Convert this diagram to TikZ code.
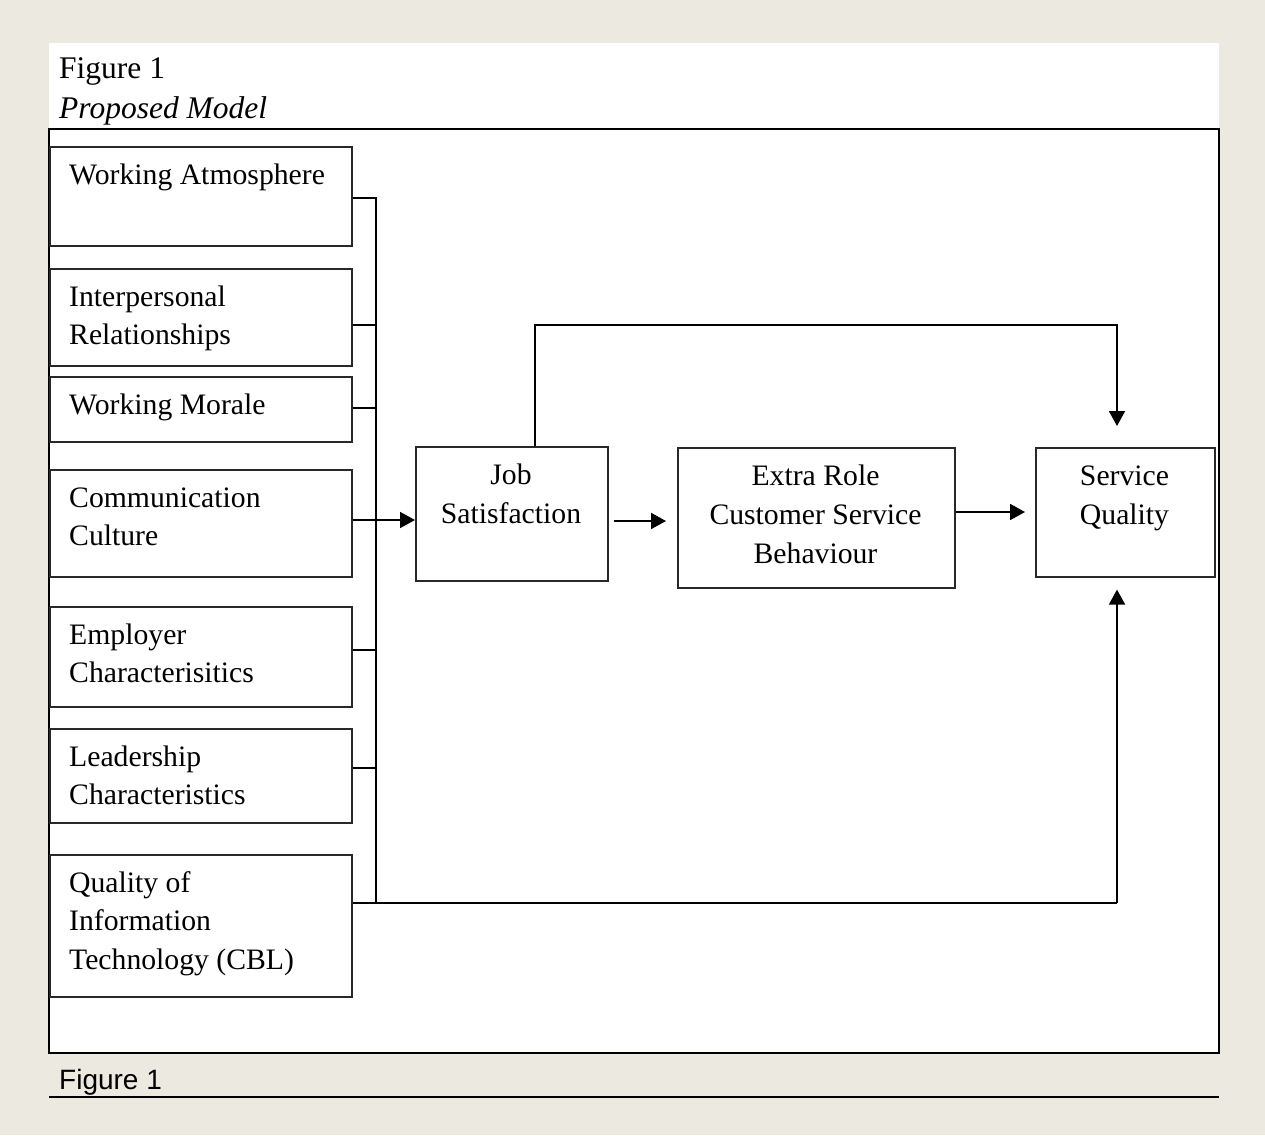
\documentclass[tikz,border=0pt]{standalone}
\usepackage{fontspec}
\setmainfont{Liberation Serif}
\newfontfamily\capfont{Liberation Sans}
\usetikzlibrary{arrows.meta,calc}
\definecolor{pagebg}{RGB}{236,234,224}
\definecolor{boxline}{RGB}{40,40,40}
\tikzset{
  box/.style={draw=boxline, line width=1.6pt, anchor=north west, inner sep=0pt, fill=white},
  lbl/.style={anchor=base west, inner sep=0pt, align=left, font=\fontsize{29.7}{38.5}\selectfont},
  ttl/.style={anchor=base west, inner sep=0pt, font=\fontsize{31.5}{40}\selectfont},
  clbl/.style={anchor=base, inner sep=0pt, align=center, font=\fontsize{29.7}{39}\selectfont},
  conn/.style={line width=1.8pt, draw=black},
  arr/.style={conn, -{Triangle[length=15pt,width=16pt]}},
}
\begin{document}
\begin{tikzpicture}[x=1pt,y=-1pt]
\useasboundingbox (0,0) rectangle (1265,1135);
\fill[pagebg] (0,0) rectangle (1265,1135);
\fill[white] (49,43) rectangle (1219,1053);
% titles
\node[ttl] (fig) at (59,78) {Figure 1};
\node[ttl] (pm) at (59,118) {\itshape Proposed Model};
% frame
\draw[line width=2.2pt] (49,129) rectangle (1219,1053);
% left boxes (base anchor = last line)
\node[box, minimum width=302pt, minimum height=99pt] (wa) at (49,146) {};
\node[lbl] at (69,184) {Working Atmosphere};
\node[box, minimum width=302pt, minimum height=97pt] (ir) at (49,268) {};
\node[lbl] at (69,344.5) {Interpersonal\\Relationships};
\node[box, minimum width=302pt, minimum height=65pt] (wm) at (49,376) {};
\node[lbl] at (69,414) {Working Morale};
\node[box, minimum width=302pt, minimum height=107pt] (cc) at (49,469) {};
\node[lbl] at (69,545.5) {Communication\\Culture};
\node[box, minimum width=302pt, minimum height=100pt] (ec) at (49,606) {};
\node[lbl] at (69,682.5) {Employer\\Characterisitics};
\node[box, minimum width=302pt, minimum height=94pt] (lc) at (49,728) {};
\node[lbl] at (69,804.5) {Leadership\\Characteristics};
\node[box, minimum width=302pt, minimum height=142pt] (qi) at (49,854) {};
\node[lbl] at (69,969) {Quality of\\Information\\Technology (CBL)};
% right boxes
\node[box, minimum width=192pt, minimum height=134pt] (js) at (415,446) {};
\node[clbl] at (511,523) {Job\\Satisfaction};
\node[box, minimum width=277pt, minimum height=140pt] (er) at (677,447) {};
\node[clbl] at (815.5,563) {Extra Role\\Customer Service\\Behaviour};
\node[box, minimum width=179pt, minimum height=129pt] (sq) at (1035,447) {};
\node[clbl] at (1124.5,524) {Service\\Quality};
% bus coordinates
\coordinate (b1) at (376,198);
\coordinate (b2) at (376,325);
\coordinate (b3) at (376,408);
\coordinate (b4) at (376,520);
\coordinate (b5) at (376,650);
\coordinate (b6) at (376,768);
\coordinate (b7) at (376,903);
\coordinate (c7) at (1117,903);
\coordinate (t1) at (535,325);
\coordinate (t2) at (1117,325);
% connectors
\draw[conn] (b1 -| wa.east) -- (b1) -- (b7);
\draw[conn] (b2 -| ir.east) -- (b2);
\draw[conn] (b3 -| wm.east) -- (b3);
\draw[conn] (b5 -| ec.east) -- (b5);
\draw[conn] (b6 -| lc.east) -- (b6);
\draw[arr] (b4 -| cc.east) -- (b4 -| js.west);
\draw[conn] (b7 -| qi.east) -- (c7);
\draw[arr, shorten >=12pt] (c7) -- (c7 |- sq.south);
\draw[arr, shorten >=21pt] (t1 |- js.north) -- (t1) -- (t2) -- (t2 |- sq.north);
\draw[arr, shorten <=5pt, shorten >=11pt] (js.east |- 0,521) -- (er.west |- 0,521);
\draw[arr, shorten >=10pt] (er.east |- 0,512) -- (sq.west |- 0,512);
% caption
\node[anchor=base west, inner sep=0pt, font=\capfont\fontsize{28}{32}\selectfont] (cap) at (59,1089) {Figure 1};
\draw[line width=2pt] (49,1097) -- (1219,1097);
\end{tikzpicture}
\end{document}
